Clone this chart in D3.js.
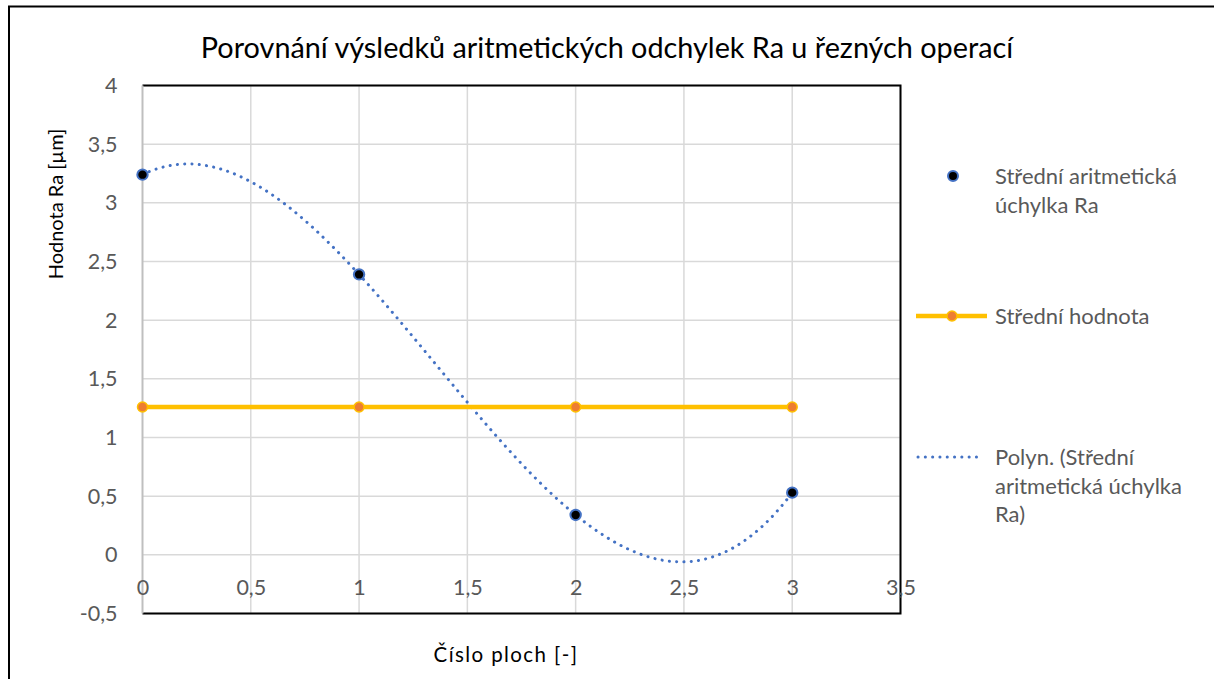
<!DOCTYPE html>
<html>
<head>
<meta charset="utf-8">
<script src="https://cdn.jsdelivr.net/npm/d3@7"></script>
<style>
  html, body { margin: 0; padding: 0; background: #fff; }
  svg { display: block; }
  text { font-family: Lato, "Open Sans", sans-serif; }
</style>
</head>
<body>
<svg id="chart" width="1214" height="679"></svg>
<script>
// Measured surfaces (číslo plochy) and their mean roughness Ra
const surfaces = [0, 1, 2, 3];
const raValues = [3.24, 2.39, 0.34, 0.53];
const meanValues = [1.26, 1.26, 1.26, 1.26];

const xTicks = [0, 0.5, 1, 1.5, 2, 2.5, 3, 3.5];
const yTicks = [-0.5, 0, 0.5, 1, 1.5, 2, 2.5, 3, 3.5, 4];

const titleText = "Porovnání výsledků aritmetických odchylek Ra u řezných operací";
const xTitle = "Číslo ploch [-]";
const yTitle = "Hodnota Ra [µm]";
const legendRa = ["Střední aritmetická", "úchylka Ra"];
const legendMean = ["Střední hodnota"];
const legendTrend = ["Polyn. (Střední", "aritmetická úchylka", "Ra)"];

const fmt = v => String(v).replace(".", ",");

const svg = d3.select("#chart");

// outer chart frame
svg.append("path")
  .attr("d", "M9,679 L9,6.5 L1214,6.5")
  .attr("fill", "none").attr("stroke", "#000").attr("stroke-width", 2);

const plot = { left: 142.5, right: 900.5, top: 85.5, bottom: 613.5 };

const x = d3.scaleLinear().domain([0, 3.5]).range([plot.left, plot.right]);
const y = d3.scaleLinear().domain([-0.5, 4]).range([plot.bottom, plot.top]);

// gridlines
const grid = svg.append("g");
grid.selectAll("line.v").data(xTicks.slice(1)).join("line")
  .attr("x1", d => x(d)).attr("x2", d => x(d))
  .attr("y1", plot.top).attr("y2", plot.bottom)
  .attr("stroke", "#d9d9d9").attr("stroke-width", 1.5);
grid.selectAll("line.h").data(yTicks).join("line")
  .attr("x1", plot.left).attr("x2", plot.right)
  .attr("y1", d => y(d)).attr("y2", d => y(d))
  .attr("stroke", "#d9d9d9").attr("stroke-width", 1.5);

// plot area border (top, right, bottom)
svg.append("path")
  .attr("d", `M${plot.left},${plot.top} L${plot.right},${plot.top} L${plot.right},${plot.bottom} L${plot.left},${plot.bottom}`)
  .attr("fill", "none").attr("stroke", "#000").attr("stroke-width", 2);

// vertical value axis line at x = 0
svg.append("line")
  .attr("x1", x(0)).attr("x2", x(0))
  .attr("y1", plot.top).attr("y2", plot.bottom)
  .attr("stroke", "#bfbfbf").attr("stroke-width", 2);

// y axis tick labels
const yAxis = d3.axisLeft(y).tickValues(yTicks).tickFormat(fmt).tickSize(0).tickPadding(0);
const yg = svg.append("g").attr("transform", `translate(${plot.left - 25},0)`).call(yAxis);
yg.select(".domain").remove();
yg.selectAll("text").attr("font-size", 21.5).attr("fill", "#595959")
  .attr("font-family", "Lato, 'Open Sans', sans-serif");

// x axis tick labels (below zero line)
const xAxis = d3.axisBottom(x).tickValues(xTicks).tickFormat(fmt).tickSize(0).tickPadding(0);
const xg = svg.append("g").attr("transform", `translate(0,${y(0) + 24.5})`).call(xAxis);
xg.select(".domain").remove();
xg.selectAll("text").attr("font-size", 21.5).attr("fill", "#595959")
  .attr("font-family", "Lato, 'Open Sans', sans-serif");

// polynomial trendline (order 3, least squares fit of the Ra series)
function polyFit(xs, ys, order) {
  const n = order + 1;
  const A = Array.from({ length: n }, () => new Array(n + 1).fill(0));
  for (let r = 0; r < n; r++) {
    for (let c = 0; c < n; c++) A[r][c] = d3.sum(xs, v => Math.pow(v, r + c));
    A[r][n] = d3.sum(xs, (v, i) => ys[i] * Math.pow(v, r));
  }
  for (let i = 0; i < n; i++) {
    let p = i;
    for (let k = i + 1; k < n; k++) if (Math.abs(A[k][i]) > Math.abs(A[p][i])) p = k;
    [A[i], A[p]] = [A[p], A[i]];
    for (let k = i + 1; k < n; k++) {
      const f = A[k][i] / A[i][i];
      for (let c = i; c <= n; c++) A[k][c] -= f * A[i][c];
    }
  }
  const coef = new Array(n).fill(0);
  for (let i = n - 1; i >= 0; i--) {
    let s = A[i][n];
    for (let c = i + 1; c < n; c++) s -= A[i][c] * coef[c];
    coef[i] = s / A[i][i];
  }
  return t => coef.reduce((acc, a, k) => acc + a * Math.pow(t, k), 0);
}
const trend = polyFit(surfaces, raValues, 3);
const trendPts = d3.range(0, 3.0001, 0.01).map(t => [t, trend(t)]);

const blue = "#4472c4";
const yellow = "#ffc000";
const orange = "#ed7d31";

svg.append("path")
  .datum(trendPts)
  .attr("d", d3.line().x(d => x(d[0])).y(d => y(d[1])))
  .attr("fill", "none").attr("stroke", blue).attr("stroke-width", 3)
  .attr("stroke-linecap", "round").attr("stroke-dasharray", "0.1 7.2");

// mean value line
const meanData = surfaces.map((s, i) => [s, meanValues[i]]);
svg.append("path")
  .datum(meanData)
  .attr("d", d3.line().x(d => x(d[0])).y(d => y(d[1])))
  .attr("fill", "none").attr("stroke", yellow).attr("stroke-width", 4.5);
svg.selectAll("circle.mean").data(meanData).join("circle")
  .attr("cx", d => x(d[0])).attr("cy", d => y(d[1])).attr("r", 5)
  .attr("fill", orange).attr("stroke", yellow).attr("stroke-width", 1.5);

// Ra points
const raData = surfaces.map((s, i) => [s, raValues[i]]);
svg.selectAll("circle.ra").data(raData).join("circle")
  .attr("cx", d => x(d[0])).attr("cy", d => y(d[1])).attr("r", 5.2)
  .attr("fill", "#000").attr("stroke", blue).attr("stroke-width", 2);

// title
svg.append("text")
  .attr("x", 607).attr("y", 58).attr("text-anchor", "middle")
  .attr("font-size", 28.8).attr("fill", "#000").text(titleText);

// axis titles
svg.append("text")
  .attr("x", 506).attr("y", 662).attr("text-anchor", "middle")
  .attr("font-size", 20.5).attr("letter-spacing", 1.4).attr("fill", "#000").text(xTitle);
svg.append("text")
  .attr("transform", "translate(63,204) rotate(-90)").attr("text-anchor", "middle")
  .attr("font-size", 20).attr("fill", "#000").text(yTitle);

// legend
const leg = svg.append("g").attr("font-size", 22).attr("fill", "#595959");
const lx = 995, lh = 28.8;
function legendText(lines, y0) {
  lines.forEach((t, i) => {
    leg.append("text").attr("x", lx).attr("y", y0 + i * lh).attr("dy", "0.35em").text(t);
  });
}
leg.append("circle").attr("cx", 953).attr("cy", 176).attr("r", 5)
  .attr("fill", "#000").attr("stroke", blue).attr("stroke-width", 2);
legendText(legendRa, 176);

leg.append("line").attr("x1", 916).attr("x2", 987).attr("y1", 316).attr("y2", 316)
  .attr("stroke", yellow).attr("stroke-width", 4.5);
leg.append("circle").attr("cx", 952).attr("cy", 316).attr("r", 5)
  .attr("fill", orange).attr("stroke", yellow).attr("stroke-width", 1.5);
legendText(legendMean, 316);

leg.append("line").attr("x1", 918).attr("x2", 982).attr("y1", 457).attr("y2", 457)
  .attr("stroke", blue).attr("stroke-width", 3)
  .attr("stroke-linecap", "round").attr("stroke-dasharray", "0.1 7.2");
legendText(legendTrend, 457);
</script>
</body>
</html>
